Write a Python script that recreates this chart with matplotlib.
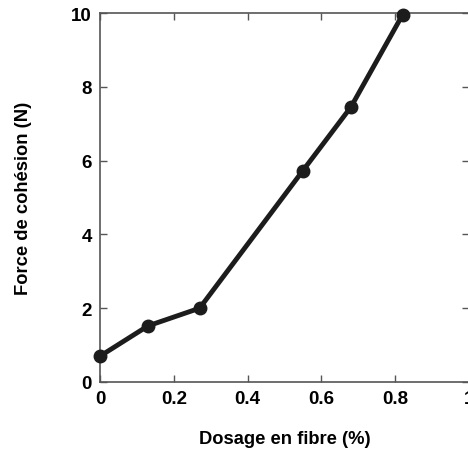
import matplotlib
matplotlib.use("Agg")
import matplotlib.pyplot as plt

# fibre dosage (%) vs cohesion force (N)
dosage = [0.0, 0.13, 0.27, 0.55, 0.68, 0.82]
force = [0.70, 1.52, 2.00, 5.73, 7.45, 9.95]

x_ticks = [0, 0.2, 0.4, 0.6, 0.8, 1]
x_labels = ["0", "0.2", "0.4", "0.6", "0.8", "1"]
y_ticks = [0, 2, 4, 6, 8, 10]

plt.rcParams["font.family"] = ["Liberation Sans", "DejaVu Sans"]

fig = plt.figure(figsize=(4.68, 4.52), dpi=100)
ax = fig.add_axes([0.2137, 0.1527, 0.7883, 0.8163])

ax.plot(dosage, force, "-o", color="#1c1c1c", linewidth=3.5,
        markersize=9, clip_on=False, zorder=3)

ax.set_xlim(0, 1)
ax.set_ylim(0, 10)
ax.set_xticks(x_ticks)
ax.set_xticklabels(x_labels)
ax.set_yticks(y_ticks)
ax.tick_params(direction="in", length=5, width=1, color="#555555",
               top=True, right=True, labelsize=13.5, pad=6)
for lab in ax.get_xticklabels() + ax.get_yticklabels():
    lab.set_fontweight("bold")
for sp in ax.spines.values():
    sp.set_color("#555555")
    sp.set_linewidth(1.2)

ax.set_xlabel("Dosage en fibre (%)", fontsize=13.2, fontweight="bold",
              labelpad=16)
ax.set_ylabel("Force de cohésion (N)", fontsize=13.2, fontweight="bold",
              labelpad=28)

fig.savefig("out.png", dpi=100)
